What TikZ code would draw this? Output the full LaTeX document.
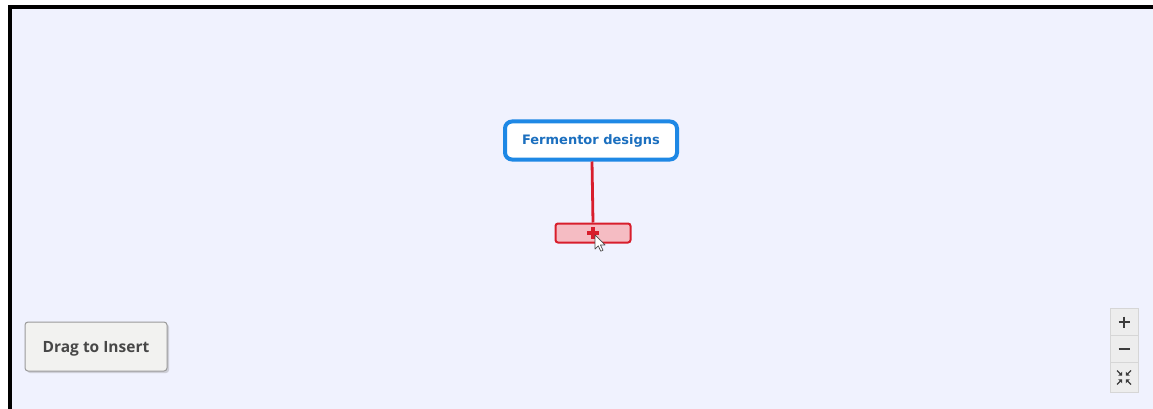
\documentclass[tikz,border=0pt]{standalone}
\usepackage{fontspec}
\setmainfont{DejaVu Sans}
\newfontfamily\btnfont{Open Sans}
\usetikzlibrary{shadows}
\definecolor{bgc}{HTML}{F0F2FE}
\definecolor{nodeblue}{HTML}{1E88E5}
\definecolor{txtblue}{HTML}{1B6FBF}
\definecolor{redc}{HTML}{D81E2C}
\definecolor{pinkc}{HTML}{F5BCC3}
\definecolor{btnfill}{HTML}{F2F2F0}
\definecolor{btnline}{HTML}{9A9A9A}
\definecolor{btntext}{HTML}{474747}
\definecolor{zoomfill}{HTML}{EDEDED}
\definecolor{zoomline}{HTML}{D6D6D6}
\definecolor{zoomicon}{HTML}{3C3C3C}
\tikzset{
  mainbox/.style={draw=nodeblue, line width=4pt, fill=white, rounded corners=7pt,
    minimum width=172pt, minimum height=38pt, inner sep=0pt,
    text=txtblue, font=\fontsize{13}{15}\selectfont\bfseries},
  addbox/.style={draw=redc, line width=2pt, fill=pinkc, rounded corners=2.5pt,
    minimum width=75pt, minimum height=19pt, inner sep=0pt},
  link/.style={draw=redc, line width=2.8pt},
  insertbtn/.style={draw=btnline, line width=1pt, fill=btnfill, rounded corners=3pt,
    minimum width=142pt, minimum height=49pt, inner sep=0pt,
    drop shadow={shadow xshift=2pt, shadow yshift=-2pt, opacity=0.3}},
  btnlabel/.style={inner sep=0pt, text=btntext,
    font=\btnfont\fontsize{15.5}{18}\selectfont\bfseries},
  zoomcell/.style={draw=zoomline, line width=0.8pt, fill=zoomfill,
    minimum width=28pt, minimum height=27pt, inner sep=0pt},
  zoomsym/.style={draw=zoomicon, line width=2pt}
}
\begin{document}
\begin{tikzpicture}[x=1pt,y=-1pt]
\useasboundingbox (0,0) rectangle (1153,409);
\fill[white] (0,0) rectangle (1153,409);
\fill[bgc] (10,7) rectangle (1153,409);
\draw[black, line width=4pt] (10,409) -- (10,7) -- (1153,7);

% main node and add box
\node[mainbox] (main) at (591,140.5) {Fermentor designs};
\node[addbox] (add) at (593,233) {};
\draw[link] (main.south) ++(1,0) coordinate (ls) (ls) -- (add.north);
\draw[redc, line width=3.2pt] (add.center) ++(-6,0) -- ++(12,0);
\draw[redc, line width=3.2pt] (add.center) ++(0,-6) -- ++(0,12);

% mouse cursor
\coordinate (cur) at (595,235);
\draw[black!70, fill=white, line width=0.7pt, line join=round]
  (cur) -- ++(0,14) -- ++(3.2,-3.2) -- ++(2.6,5.4) -- ++(2.2,-1) -- ++(-2.6,-5.2)
  -- ++(4.6,0) -- cycle;

% drag to insert button
\node[insertbtn] (btn) at (96,346.5) {};
\node[btnlabel] (btntxt) at (96,348.5) {Drag to Insert};

% zoom controls
\node[zoomcell] (zin) at (1124,322) {};
\node[zoomcell] (zout) at (1124,349) {};
\node[zoomcell, minimum height=30pt] (zfit) at (1124,377.5) {};
\draw[zoomsym] (zin.center) ++(-5.5,0) -- ++(11,0);
\draw[zoomsym] (zin.center) ++(0,-5.5) -- ++(0,11);
\draw[zoomsym] (zout.center) ++(-5.5,0) -- ++(11,0);
\foreach \sx/\sy in {1/1,-1/1,1/-1,-1/-1}{
  \draw[zoomicon, line width=1.3pt] (zfit.center) ++(\sx*7,\sy*7) -- ++(-\sx*4.5,-\sy*4.5);
  \fill[zoomicon] (zfit.center) ++(\sx*1.8,\sy*1.8) -- ++(\sx*4,0) -- ++(-\sx*4,\sy*4) -- cycle;
}
\end{tikzpicture}
\end{document}
